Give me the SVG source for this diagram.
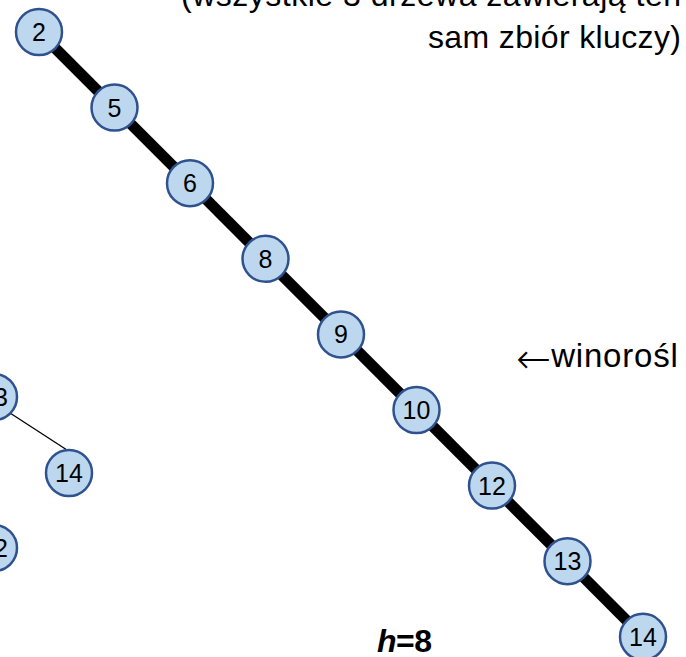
<svg xmlns="http://www.w3.org/2000/svg" width="686" height="657" viewBox="0 0 686 657">
<style>
.n circle{fill:#BDD7EE;stroke:#2F528F;stroke-width:2.5}
.n text{font-family:"Liberation Sans",Arial,sans-serif;font-size:25px;fill:#000;text-anchor:middle}
.t{font-family:"Liberation Sans",Arial,sans-serif;font-size:32px;fill:#000}
.thick{stroke:#000;stroke-width:11}
.thin{stroke:#000;stroke-width:1.3}
</style>
<rect width="686" height="657" fill="#fff"/>
<g id="connectors">
<line class="thick" x1="39" y1="32" x2="114.5" y2="107.6"/>
<line class="thick" x1="114.5" y1="107.6" x2="190" y2="183.2"/>
<line class="thick" x1="190" y1="183.2" x2="265.5" y2="258.8"/>
<line class="thick" x1="265.5" y1="258.8" x2="341" y2="334.4"/>
<line class="thick" x1="341" y1="334.4" x2="416.5" y2="410"/>
<line class="thick" x1="416.5" y1="410" x2="492" y2="485.6"/>
<line class="thick" x1="492" y1="485.6" x2="567.5" y2="561.2"/>
<line class="thick" x1="567.5" y1="561.2" x2="643" y2="636.8"/>
<line class="thin" x1="10" y1="413" x2="67" y2="450"/>
</g>
<g id="n2" class="n"><circle cx="39" cy="32" r="23"/><text x="39" y="41">2</text></g>
<g id="n5" class="n"><circle cx="114.5" cy="107.6" r="23"/><text x="114.5" y="116.6">5</text></g>
<g id="n6" class="n"><circle cx="190" cy="183.2" r="23"/><text x="190" y="192.2">6</text></g>
<g id="n8" class="n"><circle cx="265.5" cy="258.8" r="23"/><text x="265.5" y="267.8">8</text></g>
<g id="n9" class="n"><circle cx="341" cy="334.4" r="23"/><text x="341" y="343.4">9</text></g>
<g id="n10" class="n"><circle cx="416.5" cy="410" r="23"/><text x="416.5" y="419">10</text></g>
<g id="n12" class="n"><circle cx="492" cy="485.6" r="23"/><text x="492" y="494.6">12</text></g>
<g id="n13" class="n"><circle cx="567.5" cy="561.2" r="23"/><text x="567.5" y="570.2">13</text></g>
<g id="n14" class="n"><circle cx="643" cy="636.8" r="23"/><text x="643" y="645.8">14</text></g>
<g id="l13" class="n"><circle cx="-6" cy="397" r="23"/><text x="-6" y="406">13</text></g>
<g id="l14" class="n"><circle cx="69" cy="473" r="23"/><text x="69" y="482">14</text></g>
<g id="l12" class="n"><circle cx="-6" cy="548" r="23"/><text x="-6" y="557">12</text></g>
<text class="t" x="681" y="6" text-anchor="end" textLength="500">(wszystkie 3 drzewa zawierają ten</text>
<text class="t" x="681" y="48" text-anchor="end" textLength="253">sam zbiór kluczy)</text>
<text class="t" x="516" y="367"><tspan font-family="'DejaVu Sans',sans-serif" font-weight="200" font-size="42" dy="6">←</tspan><tspan font-size="33" dy="-6" letter-spacing="0.8">winorośl</tspan></text>
<text class="t" x="377" y="652" font-weight="bold" textLength="55"><tspan font-style="italic">h</tspan>=8</text>
</svg>
